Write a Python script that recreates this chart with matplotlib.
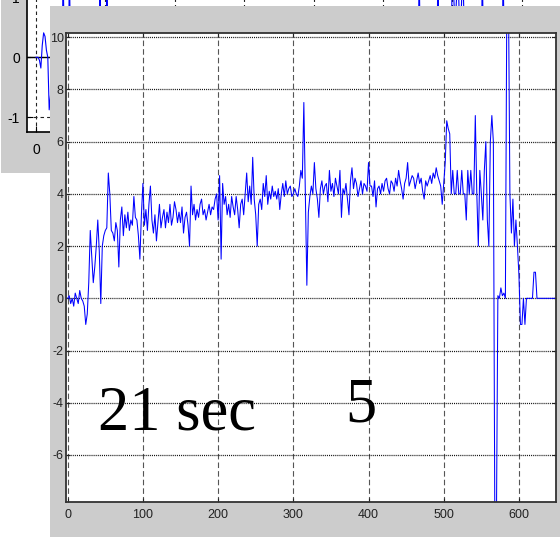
import numpy as np
import matplotlib.pyplot as plt
from matplotlib.patches import Rectangle

plt.rcParams['lines.scale_dashes'] = False
plt.rcParams['axes.unicode_minus'] = False

W, H, DPI = 560, 537, 100

# main trace, one sample every 2 steps
T_STEP = 2
signal = [
    0.0, 0.1, -0.2, 0.0, -0.3, 0.2, 0.0, -0.2, 0.3, 0.0, -0.1, -0.3, -1.0, -0.6, 0.6, 2.6, 1.6, 0.6, 1.2, 2.0, 3.0, 1.8, -0.2, 2.0, 2.4,
    2.6, 2.7, 4.8, 4.0, 2.6, 2.5, 2.2, 2.9, 2.6, 1.2, 3.0, 3.5, 2.4, 3.2, 2.7, 3.3, 2.6, 3.0, 2.8, 3.9, 3.1, 3.0, 2.4, 1.5, 3.2,
    4.4, 2.8, 3.4, 2.6, 3.6, 4.3, 3.0, 2.5, 3.2, 2.2, 2.9, 3.6, 2.7, 3.1, 3.4, 2.7, 3.3, 2.9, 3.6, 2.8, 3.1, 3.7, 3.4, 2.9, 3.3,
    2.9, 3.5, 2.5, 3.1, 3.3, 2.8, 2.0, 4.3, 3.2, 3.6, 3.0, 3.4, 3.1, 3.6, 3.8, 3.2, 3.4, 3.0, 3.3, 3.6, 3.2, 3.5, 3.4, 3.8, 4.0,
    3.0, 4.7, 1.5, 4.4, 3.6, 3.9, 3.2, 3.6, 3.1, 3.9, 3.5, 3.2, 3.9, 3.4, 2.7, 3.6, 3.8, 3.2, 4.0, 4.8, 3.7, 4.3, 3.6, 5.4, 3.8,
    3.2, 2.0, 3.6, 3.8, 3.4, 4.4, 3.9, 4.7, 3.6, 4.1, 3.8, 4.3, 3.9, 4.1, 3.8, 4.2, 3.4, 4.0, 4.4, 3.9, 4.5, 4.0, 4.2, 4.3, 3.9,
    4.0, 4.2, 4.0, 3.9, 4.3, 4.9, 4.6, 7.5, 4.0, 0.5, 3.3, 3.9, 4.3, 4.0, 5.2, 4.2, 3.8, 3.1, 4.2, 4.5, 4.0, 4.3, 4.4, 3.7, 4.9,
    4.1, 4.4, 3.9, 4.6, 4.3, 4.0, 4.9, 3.1, 4.2, 4.0, 4.4, 3.8, 3.2, 4.5, 5.0, 4.2, 4.6, 4.4, 3.9, 4.2, 4.5, 4.0, 4.4, 4.3, 4.1,
    5.2, 4.3, 4.3, 3.9, 4.5, 3.5, 4.2, 4.3, 4.0, 4.4, 4.1, 4.5, 4.6, 4.2, 4.0, 4.5, 4.4, 4.1, 4.6, 4.3, 4.9, 4.5, 4.2, 3.8, 4.4,
    4.6, 5.2, 4.3, 4.5, 4.7, 4.6, 4.2, 4.5, 4.8, 4.4, 4.6, 4.1, 3.8, 4.5, 4.3, 4.5, 4.7, 4.4, 4.8, 4.6, 5.0, 4.7, 4.5, 4.3, 3.6,
    4.4, 5.2, 6.8, 6.5, 6.3, 4.0, 4.9, 4.0, 4.0, 4.9, 4.0, 4.0, 4.9, 4.0, 4.0, 3.0, 4.9, 4.0, 4.9, 4.0, 4.0, 7.0, 4.0, 2.0, 4.9,
    4.0, 3.0, 4.9, 6.0, 3.0, 2.0, 6.0, 7.0, 6.0, -9.0, -9.0, 0.1, 0.0, 0.4, 0.1, 0.2, 0.0, 12.0, 12.0, 4.0, 2.5, 3.8, 2.0, 3.0, 2.0,
    0.9, -1.0, -1.0, 0.0, -1.0, 0.0, 0.0, 0.0, 0.0, 0.0, 1.0, 1.0, 0.0, 0.0, 0.0, 0.0, 0.0, 0.0, 0.0, 0.0, 0.0, 0.0, 0.0, 0.0, 0.0,
]
t = np.arange(len(signal)) * T_STEP

x_ticks = [0, 100, 200, 300, 400, 500, 600]
y_ticks = [-6, -4, -2, 0, 2, 4, 6, 8, 10]

# trace of the window behind
back_t = [0, 3, 5, 7, 9, 11, 13, 15, 17, 19, 22, 30, 38, 39, 41, 47, 48, 50,
          91, 92, 94, 101, 102, 104, 200, 300, 400, 500, 551, 552, 554, 578, 579, 581,
          598, 600, 604, 608, 611, 615, 618, 642, 643, 645, 672, 673, 675, 700]
back_v = [0.0, 0.0, -0.05, -0.18, 0.2, 0.41, 0.35, 0.12, 0.0, -0.88, -0.5, 0.1, 0.2, 1.5, 0.0, 0.0, 1.5, 0.0,
          0.0, 1.5, 0.0, 0.0, 1.5, 0.0, 0.3, 0.2, 0.4, 0.3, 0.0, 1.5, 0.0, 0.0, 1.5, 0.0,
          0.0, 1.5, 0.5, 1.5, 0.2, 1.5, 0.0, 0.0, 1.5, 0.0, 0.0, 1.5, 0.0, 0.0]
back_xticks = [0, 100, 200, 300, 400, 500, 600, 700]
back_yticks = [-1, 0, 1]

caption_time = "21 sec"
caption_num = "5"

WIN_GRAY = "#cccccc"
TICK_FONT = ["Liberation Sans Narrow", "Liberation Sans", "DejaVu Sans"]


def frac(x0, y0, x1, y1):
    # pixel box (from top-left) -> figure fraction rect
    return [x0 / W, 1 - y1 / H, (x1 - x0) / W, (y1 - y0) / H]


fig = plt.figure(figsize=(W / DPI, H / DPI), dpi=DPI, facecolor="white")

# window in the back
l, b, w, h = frac(1, 0, 560, 173)
fig.add_artist(Rectangle((l, b), w, h, transform=fig.transFigure,
                         facecolor=WIN_GRAY, edgecolor="none", zorder=0.2))

axb = fig.add_axes(frac(26.7, -20, 600, 132))
axb.set_zorder(0.5)
axb.axhline(0, color="k", lw=1.0)
axb.plot(back_t, back_v, color="#0000ff", lw=0.8)
axb.set_xlim(-13.4, 812.7)
axb.set_ylim(-1.251, 1.295)
axb.set_xticks(back_xticks)
axb.set_yticks(back_yticks)
axb.grid(True, color="#222222", lw=0.8, linestyle=(0, (2.5, 2.2)))
for s in axb.spines.values():
    s.set_color("black")
    s.set_linewidth(1.2)
axb.tick_params(direction="in", length=4, labelsize=10, pad=5)
axb.tick_params(axis="x", pad=8)
for lab in axb.get_xticklabels() + axb.get_yticklabels():
    lab.set_family(["Liberation Sans", "DejaVu Sans"])

# front window
l, b, w, h = frac(50, 6, 560, 537)
fig.add_artist(Rectangle((l, b), w, h, transform=fig.transFigure,
                         facecolor=WIN_GRAY, edgecolor="none", zorder=1))

ax = fig.add_axes(frac(65.7, 33.3, 555.7, 502))
ax.set_zorder(2)
ax.plot(t, signal, color="#0000ff", lw=0.75)
ax.set_xlim(-2.66, 648.9)
ax.set_ylim(-7.8, 10.15)
ax.set_xticks(x_ticks)
ax.set_yticks(y_ticks)
ax.xaxis.grid(True, color="#555555", lw=0.8, linestyle=(0, (4, 2.2)))
ax.yaxis.grid(True, color="#111111", lw=0.9, linestyle=(0, (0.75, 0.75)))
for s in ax.spines.values():
    s.set_color("#333333")
    s.set_linewidth(1.3)
ax.tick_params(direction="in", length=3, top=True, right=True,
               labelsize=9, colors="#222222")
ax.tick_params(axis="x", pad=5)
ax.tick_params(axis="y", pad=1.5)
for lab in ax.get_xticklabels() + ax.get_yticklabels():
    lab.set_family(TICK_FONT)

fig.text(98 / W, 1 - 430 / H, caption_time, family=["Liberation Serif", "DejaVu Serif"],
         fontsize=45, color="black", ha="left", va="baseline", zorder=5)
fig.text(345 / W, 1 - 422 / H, caption_num, family=["Liberation Serif", "DejaVu Serif"],
         fontsize=45, color="black", ha="left", va="baseline", zorder=5)

fig.savefig("out.png", dpi=DPI, facecolor="white")
